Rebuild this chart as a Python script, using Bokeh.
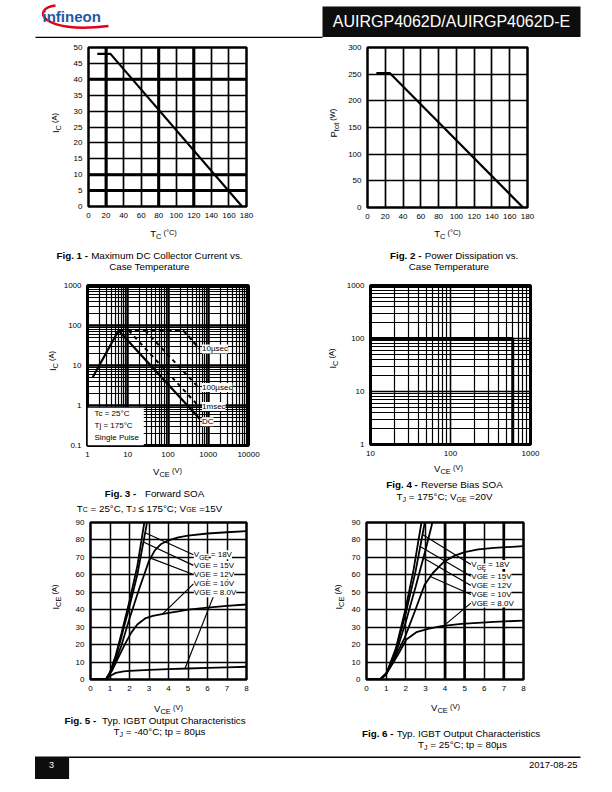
import math
from bokeh.plotting import figure
from bokeh.models import Range1d, FixedTicker, Label, BoxAnnotation, Span
from bokeh.layouts import column, row
from bokeh.embed import file_html
from bokeh.resources import INLINE

FONT = "Liberation Sans"

# ---------------- data ----------------
# Fig. 1  Maximum DC collector current vs case temperature
fig1_tc = [10, 25, 175]
fig1_ic = [48, 48, 0]
fig1_xticks = [0, 20, 40, 60, 80, 100, 120, 140, 160, 180]
fig1_yticks = [0, 5, 10, 15, 20, 25, 30, 35, 40, 45, 50]

# Fig. 2  Power dissipation vs case temperature
fig2_tc = [10, 25, 175]
fig2_ptot = [252, 252, 0]
fig2_xticks = [0, 20, 40, 60, 80, 100, 120, 140, 160, 180]
fig2_yticks = [0, 50, 100, 150, 200, 250, 300]

# Fig. 3  Forward SOA
fig3_rise_vce = [1.35, 5.9]
fig3_rise_ic = [5.1, 75]
fig3_dc_vce = [5.9, 620]
fig3_dc_ic = [75, 0.46]
fig3_1ms_vce = [10.5, 560]
fig3_1ms_ic = [75, 1.0]
fig3_100us_vce = [27, 580]
fig3_100us_ic = [75, 2.8]
fig3_10us_vce = [6, 240, 420, 600]
fig3_10us_ic = [75, 75, 40, 26]
fig3_xticks = [1, 10, 100, 1000, 10000]
fig3_yticks = [0.1, 1, 10, 100, 1000]
fig3_curve_names = ["10µsec", "100µsec", "1msec", "DC"]
fig3_name_ic = [26, 2.8, 0.94, 0.39]
fig3_name_vce = 700
fig3_notes = ["Tc = 25°C", "Tj = 175°C", "Single Pulse"]

# Fig. 4  Reverse bias SOA
fig4_vce = [10, 600, 600]
fig4_ic = [100, 100, 1]
fig4_xticks = [10, 100, 1000]
fig4_yticks = [1, 10, 100, 1000]

# Fig. 5  Output characteristics, Tj = -40 C
fig5_vce_18 = [0, 0.78, 1.0, 1.3, 1.6, 2.0, 2.4, 2.76]
fig5_ice_18 = [0, 0, 4, 14, 27, 45, 65, 90]
fig5_vce_15 = [0, 0.78, 1.0, 1.3, 1.6, 2.0, 2.4, 2.9]
fig5_ice_15 = [0, 0, 4, 13, 25, 42, 60, 90]
fig5_vce_12 = [0, 0.8, 1.2, 1.6, 2.0, 2.5, 3.0, 3.3, 3.6, 4.0, 4.5, 5.0, 6.0, 7.0, 8.0]
fig5_ice_12 = [0, 0, 8, 20, 35, 52, 68, 74, 77.5, 79.8, 81.5, 82.5, 83.7, 84.4, 85]
fig5_vce_10 = [0, 0.8, 1.1, 1.4, 1.8, 2.1, 2.4, 2.8, 3.2, 3.8, 4.5, 5.0, 6.0, 7.0, 8.0]
fig5_ice_10 = [0, 0, 5, 12, 21, 27, 31.5, 35, 36.5, 37.8, 39, 40, 41.2, 42.2, 43]
fig5_vce_8 = [0, 0.8, 1.0, 1.3, 1.7, 2.0, 3.0, 4.0, 5.0, 6.0, 7.0, 8.0]
fig5_ice_8 = [0, 0, 2, 3.8, 4.6, 5.0, 5.5, 5.9, 6.3, 6.7, 7.0, 7.3]
fig5_names = ["18V", "15V", "12V", "10V", "8.0V"]
fig5_name_vce = 5.3
fig5_name_ice = [71.5, 65.4, 60.2, 54.8, 49.7]
fig5_lead_vce = [[2.83, 5.28], [2.74, 5.28], [2.98, 5.28], [3.7, 5.28], [4.85, 6.3]]
fig5_lead_ice = [[84, 71.5], [78.7, 65.4], [70, 60.2], [37.6, 54.8], [6.5, 47.5]]

# Fig. 6  Output characteristics, Tj = 25 C
fig6_vce_18 = [0, 0.7, 1.0, 1.5, 2.0, 2.4, 2.8]
fig6_ice_18 = [0, 0, 3, 18, 41, 63, 90]
fig6_vce_15 = [0, 0.7, 1.0, 1.5, 2.0, 2.5, 2.97]
fig6_ice_15 = [0, 0, 3, 17, 38, 62, 90]
fig6_vce_12 = [0, 0.7, 1.0, 1.5, 2.0, 2.5, 3.0, 3.36]
fig6_ice_12 = [0, 0, 3, 15, 33, 53, 74, 90]
fig6_vce_10 = [0, 0.7, 1.0, 1.44, 1.95, 2.46, 2.97, 3.39, 3.98, 4.5, 5.0, 5.7, 6.5, 8.0]
fig6_ice_10 = [0, 0, 3, 12.4, 24, 39, 54.5, 61.2, 67.8, 71, 73, 74.6, 75.5, 76.4]
fig6_vce_8 = [0, 0.68, 1.1, 1.61, 2.03, 2.54, 3.14, 3.81, 4.83, 6.5, 8.0]
fig6_ice_8 = [0, 0, 4.8, 14.3, 22.9, 27.1, 29, 30.6, 31.9, 33, 33.8]
fig6_names = ["18V", "15V", "12V", "10V", "8.0V"]
fig6_name_vce = 5.34
fig6_name_ice = [65.9, 59.2, 53.9, 48.7, 43.8]
fig6_lead_vce = [[2.85, 5.32], [2.71, 5.32], [2.88, 5.32], [3.22, 5.32], [3.81, 5.32]]
fig6_lead_ice = [[83.1, 65.9], [76.4, 59.2], [69.8, 53.9], [59.2, 48.7], [29.6, 43.8]]

fig56_xticks = [0, 1, 2, 3, 4, 5, 6, 7, 8]
fig56_yticks = [0, 10, 20, 30, 40, 50, 60, 70, 80, 90]

# ---------------- text helpers ----------------
WID = {' ': .278, '(': .333, ')': .333, '°': .4, '=': .584, '.': .278, ',': .278, ';': .278,
       '-': .333, 'µ': .576, '≤': .584, ':': .278, '/': .278,
       'A': .667, 'B': .667, 'C': .722, 'D': .722, 'E': .667, 'F': .611, 'G': .778, 'H': .722,
       'I': .278, 'J': .5, 'K': .667, 'L': .556, 'M': .833, 'N': .722, 'O': .778, 'P': .667,
       'Q': .778, 'R': .722, 'S': .667, 'T': .611, 'U': .722, 'V': .667, 'W': .944, 'X': .667,
       'Y': .667, 'Z': .611, 'a': .556, 'b': .556, 'c': .5, 'd': .556, 'e': .556, 'f': .278,
       'g': .556, 'h': .556, 'i': .222, 'j': .222, 'k': .5, 'l': .222, 'm': .833, 'n': .556,
       'o': .556, 'p': .556, 'q': .556, 'r': .333, 's': .5, 't': .278, 'u': .556, 'v': .5,
       'w': .722, 'x': .5, 'y': .5, 'z': .5}


def tw(text, size, bold=False):
    return sum(WID.get(ch, 0.556) for ch in text) * size * (1.05 if bold else 1.0)


def rich(p, x, y, parts, angle=0.0, align="center", xo=0.0, yo=0.0, bg=None, color="black"):
    """Mixed-size text centred vertically on (x, y).
    parts: (text, size_px, shift_down_px, bold)"""
    S = max(s for (_, s, _, _) in parts)
    widths = [tw(t, s, b) for (t, s, sh, b) in parts]
    total = sum(widths)
    cum = {"left": 0.0, "center": -total / 2.0, "right": -total}[align]
    for (t, s, sh, b), w in zip(parts, widths):
        lead = len(t) - len(t.lstrip(' '))
        cum_t = cum + lead * WID[' '] * s
        txt = t.strip(' ')
        d = 0.36 * (S - s) + sh
        if txt:
            if angle == 0:
                dx, dy = xo + cum_t, yo - d
            else:
                dx, dy = xo + d, yo + cum_t
            lab = Label(x=x, y=y, text=txt, x_offset=dx, y_offset=dy, angle=angle,
                        text_font=FONT, text_font_size=f"{s}px",
                        text_font_style="bold" if b else "normal",
                        text_align="left", text_baseline="middle", text_color=color)
            if bg is not None:
                lab.background_fill_color = bg
            p.add_layout(lab)
        cum += w


def chart(fw, fh, bl, br, bt, bb, xr, yr, xticks, yticks, xlog=False, ylog=False,
          outline=2.5, major_w=1.7, minor_w=1.0):
    p = figure(frame_width=fw, frame_height=fh, title=None,
               min_border_left=bl, min_border_right=br, min_border_top=bt, min_border_bottom=bb,
               x_range=Range1d(*xr), y_range=Range1d(*yr),
               x_axis_type="log" if xlog else "linear",
               y_axis_type="log" if ylog else "linear",
               output_backend="svg", toolbar_location=None)
    p.outline_line_color = "black"
    p.outline_line_width = outline
    p.background_fill_color = "white"
    p.border_fill_color = "white"
    for ax in list(p.xaxis) + list(p.yaxis):
        ax.axis_line_color = None
        ax.major_tick_line_color = None
        ax.minor_tick_line_color = None
        ax.major_tick_in = 0
        ax.major_tick_out = 0
        ax.minor_tick_in = 0
        ax.minor_tick_out = 0
        ax.major_label_text_font = FONT
        ax.major_label_text_font_size = "8px"
        ax.major_label_text_color = "black"
    p.xaxis.major_label_standoff = 6
    p.yaxis.major_label_standoff = 6

    def minors(ticks):
        return [m * t for t in ticks[:-1] for m in range(2, 10)]

    if xlog:
        p.xaxis.ticker = FixedTicker(ticks=xticks, minor_ticks=minors(xticks))
        p.xaxis.major_label_overrides = {t: f"{t:g}" for t in xticks}
        p.xgrid.minor_grid_line_color = "black"
        p.xgrid.minor_grid_line_width = minor_w
    else:
        p.xaxis.ticker = FixedTicker(ticks=xticks)
    if ylog:
        p.yaxis.ticker = FixedTicker(ticks=yticks, minor_ticks=minors(yticks))
        p.yaxis.major_label_overrides = {t: f"{t:g}" for t in yticks}
        p.ygrid.minor_grid_line_color = "black"
        p.ygrid.minor_grid_line_width = minor_w
    else:
        p.yaxis.ticker = FixedTicker(ticks=yticks)
    p.grid.grid_line_color = "black"
    p.grid.grid_line_alpha = 1.0
    p.grid.grid_line_width = major_w
    return p


def heavy_grid(p, xs=(), ys=(), width=3.0):
    for xv in xs:
        p.add_layout(Span(location=xv, dimension="height", line_color="black",
                          line_width=width, level="underlay"))
    for yv in ys:
        p.add_layout(Span(location=yv, dimension="width", line_color="black",
                          line_width=width, level="underlay"))


def canvas(w, h):
    p = figure(width=w, height=h, title=None, x_range=Range1d(0, w), y_range=Range1d(h, 0),
               output_backend="svg", toolbar_location=None, min_border=0,
               x_axis_location=None, y_axis_location=None)
    p.grid.visible = False
    p.outline_line_color = None
    p.background_fill_color = "white"
    p.border_fill_color = "white"
    return p


def sub_lbl(main, sub, rest, big=9.5, small=7.5, shift=2.3):
    return [(main, big, 0, False), (sub, small, shift, False), (rest, small, -1.5, False)]


def ystrip(w, h, cx, cy, parts):
    s = canvas(w, h)
    rich(s, cx, cy, parts, angle=math.pi / 2)
    return s


# ---------------- header (page y 0..42) ----------------
hdr = canvas(612, 42)
hdr.quad(left=[322], right=[580], top=[6], bottom=[36.5], fill_color="#0d0d0d", line_color=None)
hdr.add_layout(Label(x=451, y=21, text="AUIRGP4062D/AUIRGP4062D-E", text_font=FONT,
                     text_font_size="16px", text_color="white", text_align="center",
                     text_baseline="middle"))
hdr.line(x=[35, 322], y=[36.8, 36.8], line_color="black", line_width=1.2)
hdr.bezier(x0=[55], y0=[5], x1=[108], y1=[25.5], cx0=[30], cy0=[8], cx1=[40], cy1=[34],
           line_color="#e2001a", line_width=2.4)
hdr.add_layout(Label(x=42, y=16, text="infineon", text_font=FONT, text_font_style="bold",
                     text_font_size="15px", text_color="#1f5aa6", text_align="left",
                     text_baseline="middle"))

# ---------------- row 1 (page y 42..223) ----------------
f1 = chart(158, 159, 17, 61, 5, 17, (0, 180), (0, 50), fig1_xticks, fig1_yticks)
heavy_grid(f1, xs=[20, 80, 120], ys=[40, 10, 5])
f1.line(x=fig1_tc, y=fig1_ic, line_color="black", line_width=2.2)

f2 = chart(160, 160, 22, 86, 5, 16, (0, 180), (0, 300), fig2_xticks, fig2_yticks)
f2.line(x=fig2_tc, y=fig2_ptot, line_color="black", line_width=2.2)

s1 = ystrip(70, 181, 55, 86, sub_lbl("I", "C", " (A)"))
s2 = ystrip(38, 181, 26, 86, sub_lbl("P", "tot", " (W)"))

# captions row 1 (page y 223..275)
CS = 9.8
cap1 = canvas(612, 52)
rich(cap1, 163, 10, sub_lbl("T", "C", " (°C)"))
rich(cap1, 447, 10, sub_lbl("T", "C", " (°C)"))
rich(cap1, 149, 32, [("Fig. 1 -", CS, 0, True), (" Maximum DC Collector Current vs.", CS, 0, False)])
rich(cap1, 149.5, 43, [("Case Temperature", CS, 0, False)])
rich(cap1, 455, 32, [("Fig. 2 -", CS, 0, True), (" Power  Dissipation vs.", CS, 0, False)])
rich(cap1, 449, 43, [("Case Temperature", CS, 0, False)])

# ---------------- row 2 (page y 275..461) ----------------
f3 = chart(161, 160, 25, 60, 10, 16, (1, 10000), (0.1, 1000), fig3_xticks, fig3_yticks,
           xlog=True, ylog=True, outline=3, major_w=2.5, minor_w=1.2)
f3.add_layout(BoxAnnotation(left=1, right=25, bottom=0.1, top=0.88, fill_color="white",
                            fill_alpha=1.0, line_color=None))
f3.line(x=fig3_rise_vce, y=fig3_rise_ic, line_color="black", line_width=2.2)
f3.line(x=fig3_dc_vce, y=fig3_dc_ic, line_color="black", line_width=2.2)
f3.line(x=fig3_1ms_vce, y=fig3_1ms_ic, line_color="black", line_width=2, line_dash="4 4")
f3.line(x=fig3_100us_vce, y=fig3_100us_ic, line_color="black", line_width=2, line_dash="4 4")
f3.line(x=fig3_10us_vce, y=fig3_10us_ic, line_color="black", line_width=2.2, line_dash="5 3")
for name, yv in zip(fig3_curve_names, fig3_name_ic):
    f3.add_layout(Label(x=fig3_name_vce, y=yv, text=name, text_font=FONT, text_font_size="8px",
                        text_align="left", text_baseline="middle", text_color="black",
                        background_fill_color="white"))
for i, note in enumerate(fig3_notes):
    f3.add_layout(Label(x=1, y=0.1, text=note, x_offset=7, y_offset=32 - 12 * i, text_font=FONT,
                        text_font_size="8px", text_align="left", text_baseline="middle",
                        text_color="black"))

f4 = chart(160, 159, 28, 84, 7, 20, (10, 1000), (1, 1000), fig4_xticks, fig4_yticks,
           xlog=True, ylog=True, outline=3, major_w=1.6, minor_w=1.2)
f4.line(x=fig4_vce, y=fig4_ic, line_color="black", line_width=3)

s3 = ystrip(60, 186, 52, 90, sub_lbl("I", "C", " (A)", shift=2.0))
s4 = ystrip(34, 186, 24, 87, sub_lbl("I", "C", " (A)"))

# captions row 2 (page y 461..515)
cap2 = canvas(612, 54)
rich(cap2, 167, 10, sub_lbl("V", "CE", " (V)"))
rich(cap2, 448, 6.5, sub_lbl("V", "CE", " (V)"))
rich(cap2, 154, 32, [("Fig. 3 -", CS, 0, True), ("   Forward SOA", CS, 0, False)])
rich(cap2, 149, 47, [("T", CS, 0, False), ("C", 7, 0, False), (" = 25°C, T", CS, 0, False),
                     ("J", 7, 0, False), (" ≤ 175°C; V", CS, 0, False), ("GE", 7, 0, False),
                     (" =15V", CS, 0, False)])
rich(cap2, 444, 23, [("Fig. 4 -", CS, 0, True), (" Reverse Bias SOA", CS, 0, False)])
rich(cap2, 444, 35, [("T", CS, 0, False), ("J", 7, 2, False), (" = 175°C; V", CS, 0, False),
                     ("GE", 7, 2, False), (" =20V", CS, 0, False)])


# ---------------- row 3 (page y 515..696) ----------------
def output_chart(fw, fh, bl, br, bt, bb, curves, names, name_x, name_y, lead_x, lead_y,
                 heavy_x=()):
    p = chart(fw, fh, bl, br, bt, bb, (0, 8), (0, 90), fig56_xticks, fig56_yticks, major_w=1.5)
    heavy_grid(p, xs=heavy_x, width=2.6)
    for xs, ys in curves:
        p.line(x=xs, y=ys, line_color="black", line_width=1.8)
    for xs, ys in zip(lead_x, lead_y):
        p.line(x=xs, y=ys, line_color="black", line_width=1.2)
    for i, (nm, yv) in enumerate(zip(names, name_y)):
        if i == 0:
            rich(p, name_x, yv, [("V", 8, 0, False), ("GE", 6.5, 2, False),
                                 (" = " + nm, 8, 0, False)], align="left", bg="white")
        else:
            rich(p, name_x, yv, [("VGE = " + nm, 8, 0, False)], align="left", bg="white")
    return p


f5 = output_chart(156, 157, 20, 60, 7, 17,
                  [(fig5_vce_18, fig5_ice_18), (fig5_vce_15, fig5_ice_15),
                   (fig5_vce_12, fig5_ice_12), (fig5_vce_10, fig5_ice_10),
                   (fig5_vce_8, fig5_ice_8)],
                  fig5_names, fig5_name_vce, fig5_name_ice, fig5_lead_vce, fig5_lead_ice)

f6 = output_chart(157, 157, 17, 90, 5, 19,
                  [(fig6_vce_18, fig6_ice_18), (fig6_vce_15, fig6_ice_15),
                   (fig6_vce_12, fig6_ice_12), (fig6_vce_10, fig6_ice_10),
                   (fig6_vce_8, fig6_ice_8)],
                  fig6_names, fig6_name_vce, fig6_name_ice, fig6_lead_vce, fig6_lead_ice,
                  heavy_x=[4, 5, 7])

s5 = ystrip(70, 181, 55, 87, sub_lbl("I", "CE", " (A)"))
s6 = ystrip(42, 181, 32, 87, sub_lbl("I", "CE", " (A)"))

# captions row 3 (page y 696..752)
cap3 = canvas(612, 56)
rich(cap3, 168, 12, sub_lbl("V", "CE", " (V)"))
rich(cap3, 445, 11, sub_lbl("V", "CE", " (V)"))
rich(cap3, 155, 24, [("Fig. 5 -", CS, 0, True), ("  Typ. IGBT Output Characteristics", CS, 0, False)])
rich(cap3, 159, 35, [("T", CS, 0, False), ("J", 7, 1.5, False), (" = -40°C; tp = 80µs", CS, 0, False)])
rich(cap3, 451, 37, [("Fig. 6 -", CS, 0, True), (" Typ. IGBT Output Characteristics", CS, 0, False)])
rich(cap3, 462, 48, [("T", CS, 0, False), ("J", 7, 1.5, False), (" = 25°C; tp = 80µs", CS, 0, False)])

# ---------------- footer (page y 752..792) ----------------
ftr = canvas(612, 40)
ftr.quad(left=[34.5], right=[68.6], top=[4], bottom=[26.5], fill_color="#0d0d0d", line_color=None)
ftr.line(x=[68.6, 580], y=[4.8, 4.8], line_color="black", line_width=1.6)
ftr.add_layout(Label(x=51, y=12, text="3", text_font=FONT, text_font_size="9px",
                     text_color="white", text_align="center", text_baseline="middle"))
ftr.add_layout(Label(x=577, y=12, text="2017-08-25", text_font=FONT, text_font_size="9.5px",
                     text_color="black", text_align="right", text_baseline="middle"))

page = column(hdr,
              row(s1, f1, s2, f2), cap1,
              row(s3, f3, s4, f4), cap2,
              row(s5, f5, s6, f6), cap3,
              ftr)

open("out.html", "w").write(file_html(page, INLINE, title="AUIRGP4062D"))
